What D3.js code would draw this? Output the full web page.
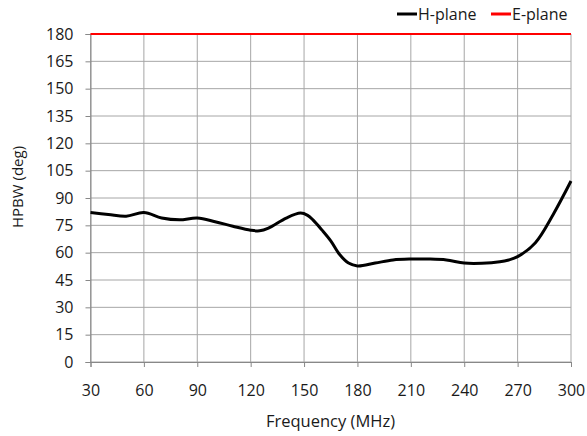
<!DOCTYPE html>
<html><head><meta charset="utf-8">
<script src="https://cdn.jsdelivr.net/npm/d3@7"></script>
<style>body{margin:0;background:#fff}svg{display:block}text{font-family:"Open Sans",sans-serif;fill:#1a1a1a}</style>
</head><body>
<svg id="c" width="587" height="436"></svg>
<script>
const freq = [30,40,50,60,70,80,90,100,110,120,125,130,140,148,152,155,160,165,170,175,180,190,200,210,220,230,240,250,260,265,270,280,290,300];
const hPlane = [82,81,80,82,79,78,79,77,74.5,72.3,72,73.5,79,81.7,80.5,78,72.5,66.5,59,54.3,52.7,54.3,56,56.5,56.5,56,54.3,54.2,55,56,57.8,65.5,81,99.3];
const eFreq = [30,300];
const ePlane = [180,180];
const xTicks = [30,60,90,120,150,180,210,240,270,300];
const yTicks = [0,15,30,45,60,75,90,105,120,135,150,165,180];

const svg = d3.select("#c");
const L=90.5,R=571,T=34,B=362;
const x = d3.scaleLinear().domain([30,300]).range([L,R]);
const y = d3.scaleLinear().domain([0,180]).range([B,T]);

// grid
svg.append("g").selectAll("line").data(yTicks).join("line")
  .attr("x1",L).attr("x2",R).attr("y1",d=>y(d)).attr("y2",d=>y(d))
  .attr("stroke","#a6a6a6").attr("stroke-width",1);
svg.append("g").selectAll("line").data(xTicks).join("line")
  .attr("x1",d=>x(d)).attr("x2",d=>x(d)).attr("y1",T).attr("y2",B)
  .attr("stroke","#a6a6a6").attr("stroke-width",1);

// axes
const xa = svg.append("g").attr("transform",`translate(0,${B})`)
  .call(d3.axisBottom(x).tickValues(xTicks).tickSize(5).tickPadding(18));
const ya = svg.append("g").attr("transform",`translate(${L},0)`)
  .call(d3.axisLeft(y).tickValues(yTicks).tickSize(5).tickPadding(12));
[xa,ya].forEach(a=>{
  a.select(".domain").attr("stroke","#888");
  a.selectAll(".tick line").attr("stroke","#888");
  a.selectAll("text").style("font-size","16px").attr("fill","#1a1a1a");
});

// series
svg.append("path").datum(eFreq.map((f,i)=>[f,ePlane[i]]))
  .attr("d",d3.line().x(d=>x(d[0])).y(d=>y(d[1])))
  .attr("fill","none").attr("stroke","#ff0000").attr("stroke-width",2);
const line = d3.line().x(d=>x(d[0])).y(d=>y(d[1])).curve(d3.curveCatmullRom.alpha(0.5));
svg.append("path").datum(freq.map((f,i)=>[f,hPlane[i]]))
  .attr("d",line).attr("fill","none").attr("stroke","#000").attr("stroke-width",3)
  .attr("stroke-linejoin","round");

// titles
svg.append("text").attr("x",330.5).attr("y",427).attr("text-anchor","middle")
  .style("font-size","16.5px").text("Frequency (MHz)");
svg.append("text").attr("transform","translate(23,187) rotate(-90)").attr("text-anchor","middle")
  .style("font-size","15px").text("HPBW (deg)");

// legend
const leg = [{n:"H-plane",c:"#000",x:397},{n:"E-plane",c:"#ff0000",x:491}];
const lg = svg.append("g").selectAll("g").data(leg).join("g");
lg.append("line").attr("x1",d=>d.x).attr("x2",d=>d.x+20).attr("y1",14).attr("y2",14)
  .attr("stroke",d=>d.c).attr("stroke-width",3);
lg.append("text").attr("x",d=>d.x+21).attr("y",20).style("font-size","16px").text(d=>d.n);
</script>
</body></html>
